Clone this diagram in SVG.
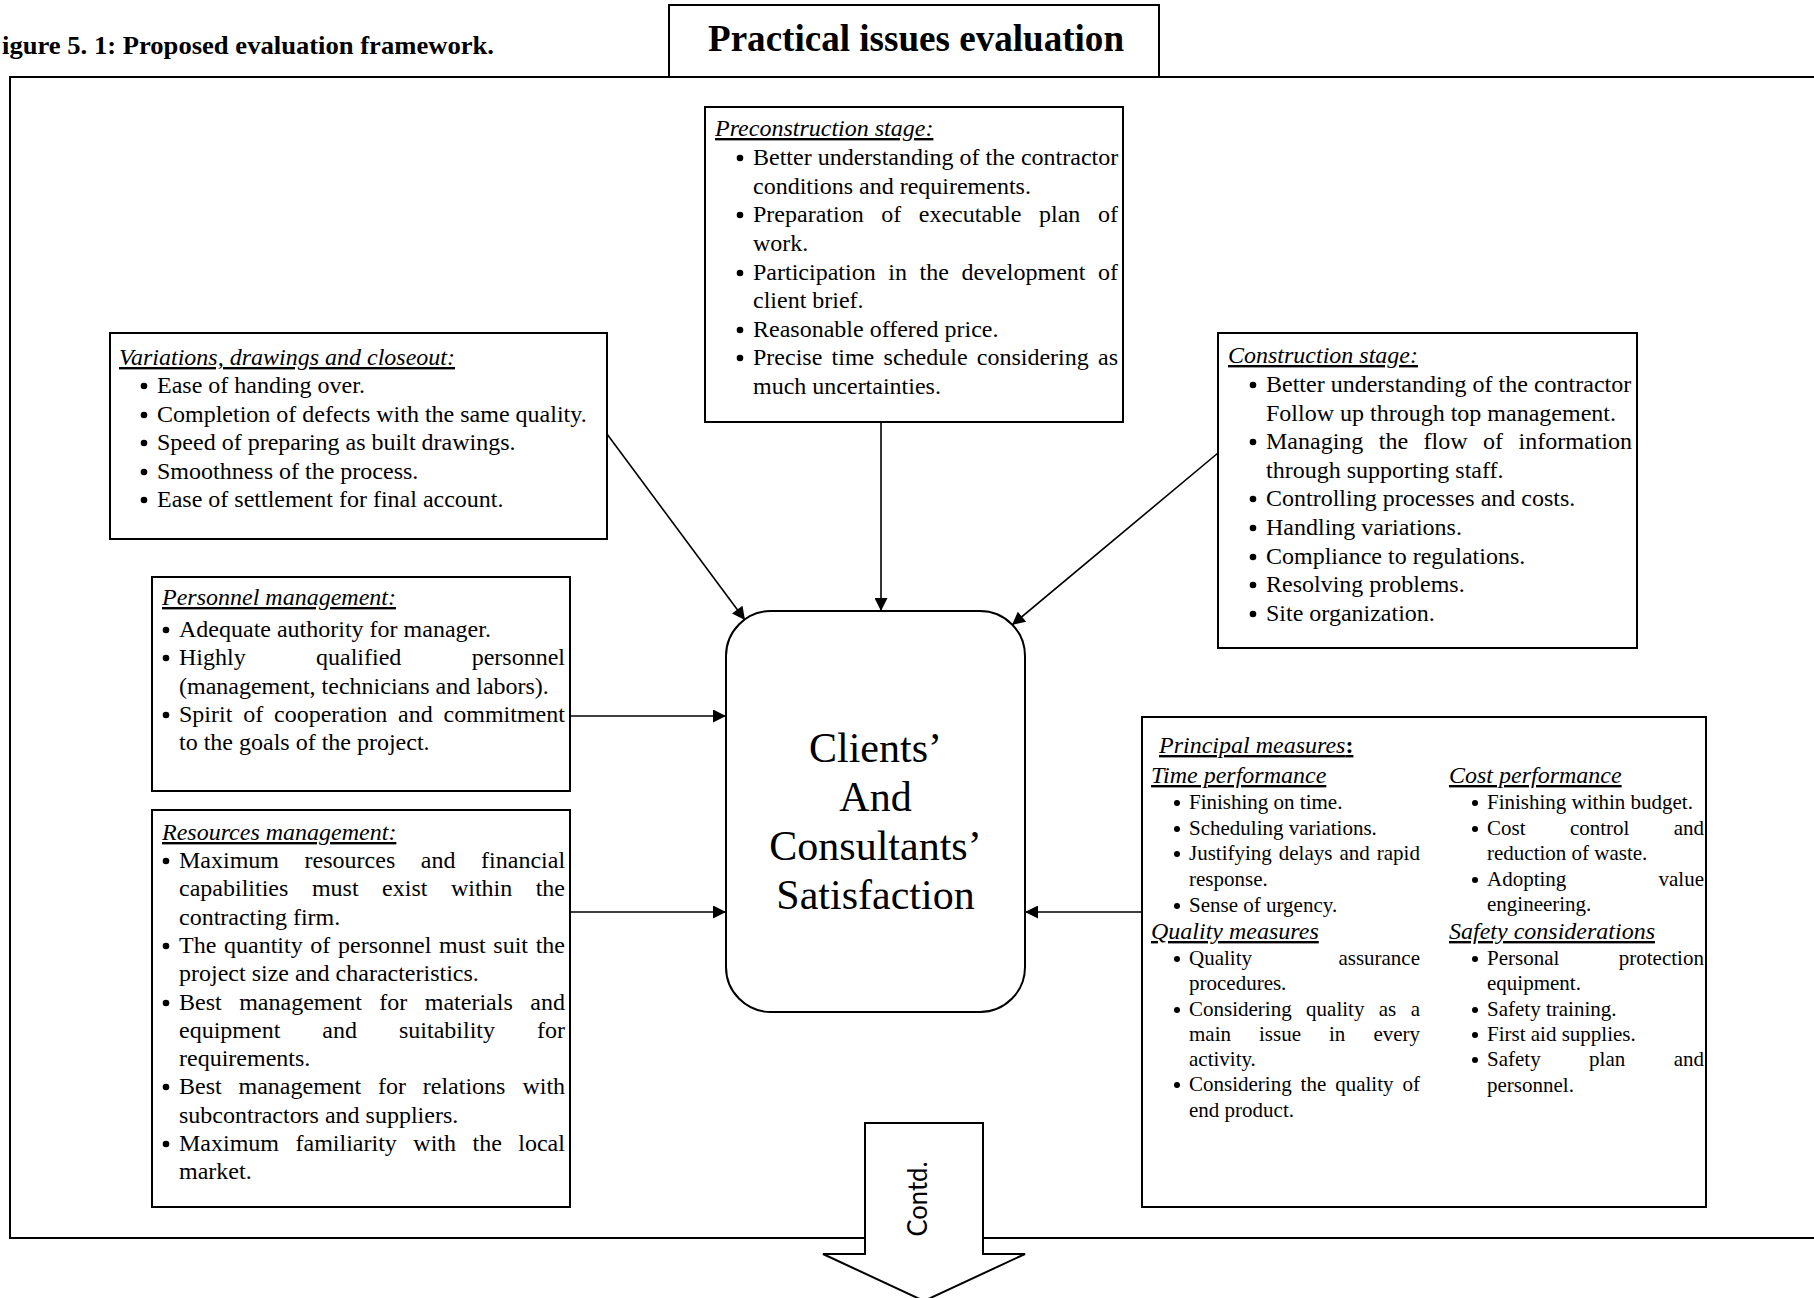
<svg xmlns="http://www.w3.org/2000/svg" width="1814" height="1298" viewBox="0 0 1814 1298">
<style>
.box{fill:#fff;stroke:#000;stroke-width:2}
.t{font-family:"Liberation Serif","Times New Roman",serif;font-size:24px;fill:#000}
.s{font-size:21px}
.h{font-style:italic;text-decoration:underline}
.bu{fill:#000}
.conn{stroke:#000;stroke-width:1.6;fill:none;marker-end:url(#ah)}
.frame{fill:none;stroke:#000;stroke-width:2}
</style>
<defs>
<marker id="ah" viewBox="0 0 10 10" refX="10" refY="5" markerWidth="16" markerHeight="13" markerUnits="userSpaceOnUse" orient="auto"><path d="M0,0 L10,5 L0,10 z" fill="#000"/></marker>
</defs>
<rect x="0" y="0" width="1814" height="1298" fill="#fff"/>
<g id="caption">
<text x="2" y="54" class="t" style="font-weight:bold;font-size:26px" textLength="492" lengthAdjust="spacingAndGlyphs">igure 5. 1: Proposed evaluation framework.</text>
</g>
<path id="frame" class="frame" d="M1830,77 H10 V1238 H1830"/>
<g id="title">
<rect class="box" x="669" y="5" width="490" height="72"/>
<text x="916" y="51" class="t" text-anchor="middle" style="font-weight:bold;font-size:38px" textLength="416" lengthAdjust="spacingAndGlyphs">Practical issues evaluation</text>
</g>
<g id="connectors">
<line class="conn" x1="881" y1="422" x2="881" y2="611"/>
<line class="conn" x1="607" y1="434" x2="745" y2="620"/>
<line class="conn" x1="1218" y1="453" x2="1012" y2="625"/>
<line class="conn" x1="570" y1="716" x2="726" y2="716"/>
<line class="conn" x1="570" y1="912" x2="726" y2="912"/>
<line class="conn" x1="1142" y1="912" x2="1025" y2="912"/>
</g>
<g id="preconstruction">
<rect class="box" x="705" y="107" width="418" height="315"/>
<text x="715" y="136" class="t h">Preconstruction stage:</text>
<circle class="bu" cx="740" cy="158" r="3.3"/>
<circle class="bu" cx="740" cy="215" r="3.3"/>
<circle class="bu" cx="740" cy="273" r="3.3"/>
<circle class="bu" cx="740" cy="330" r="3.3"/>
<circle class="bu" cx="740" cy="358" r="3.3"/>
<text x="753" y="165" class="t">Better understanding of the contractor</text>
<text x="753" y="194" class="t">conditions and requirements.</text>
<text y="222" class="t"><tspan x="753">Preparation </tspan><tspan x="881.2">of </tspan><tspan x="918.8">executable </tspan><tspan x="1039">plan </tspan><tspan x="1097.9">of</tspan></text>
<text x="753" y="251" class="t">work.</text>
<text y="280" class="t"><tspan x="753">Participation </tspan><tspan x="888.3">in </tspan><tspan x="919.6">the </tspan><tspan x="961.5">development </tspan><tspan x="1098.1">of</tspan></text>
<text x="753" y="308" class="t">client brief.</text>
<text x="753" y="337" class="t">Reasonable offered price.</text>
<text y="365" class="t"><tspan x="753">Precise </tspan><tspan x="831.6">time </tspan><tspan x="883.6">schedule </tspan><tspan x="976.8">considering </tspan><tspan x="1098.1">as</tspan></text>
<text x="753" y="394" class="t">much uncertainties.</text>
</g>
<g id="variations">
<rect class="box" x="110" y="333" width="497" height="206"/>
<text x="119" y="365" class="t h">Variations, drawings and closeout:</text>
<circle class="bu" cx="144" cy="386" r="3.3"/>
<circle class="bu" cx="144" cy="415" r="3.3"/>
<circle class="bu" cx="144" cy="443" r="3.3"/>
<circle class="bu" cx="144" cy="472" r="3.3"/>
<circle class="bu" cx="144" cy="500" r="3.3"/>
<text x="157" y="393" class="t">Ease of handing over.</text>
<text x="157" y="422" class="t">Completion of defects with the same quality.</text>
<text x="157" y="450" class="t">Speed of preparing as built drawings.</text>
<text x="157" y="479" class="t">Smoothness of the process.</text>
<text x="157" y="507" class="t">Ease of settlement for final account.</text>
</g>
<g id="construction">
<rect class="box" x="1218" y="333" width="419" height="315"/>
<text x="1228" y="363" class="t h">Construction stage:</text>
<circle class="bu" cx="1253" cy="385" r="3.3"/>
<circle class="bu" cx="1253" cy="442" r="3.3"/>
<circle class="bu" cx="1253" cy="499" r="3.3"/>
<circle class="bu" cx="1253" cy="528" r="3.3"/>
<circle class="bu" cx="1253" cy="557" r="3.3"/>
<circle class="bu" cx="1253" cy="585" r="3.3"/>
<circle class="bu" cx="1253" cy="614" r="3.3"/>
<text x="1266" y="392" class="t">Better understanding of the contractor</text>
<text x="1266" y="421" class="t">Follow up through top management.</text>
<text y="449" class="t"><tspan x="1266">Managing </tspan><tspan x="1378.8">the </tspan><tspan x="1423.6">flow </tspan><tspan x="1483.1">of </tspan><tspan x="1518.6">information</tspan></text>
<text x="1266" y="478" class="t">through supporting staff.</text>
<text x="1266" y="506" class="t">Controlling processes and costs.</text>
<text x="1266" y="535" class="t">Handling variations.</text>
<text x="1266" y="564" class="t">Compliance to regulations.</text>
<text x="1266" y="592" class="t">Resolving problems.</text>
<text x="1266" y="621" class="t">Site organization.</text>
</g>
<g id="personnel">
<rect class="box" x="152" y="577" width="418" height="214"/>
<text x="162" y="605" class="t h">Personnel management:</text>
<circle class="bu" cx="166" cy="630" r="3.3"/>
<circle class="bu" cx="166" cy="658" r="3.3"/>
<circle class="bu" cx="166" cy="715" r="3.3"/>
<text x="179" y="637" class="t">Adequate authority for manager.</text>
<text y="665" class="t"><tspan x="179">Highly </tspan><tspan x="316">qualified </tspan><tspan x="471.7">personnel</tspan></text>
<text x="179" y="694" class="t">(management, technicians and labors).</text>
<text y="722" class="t"><tspan x="179">Spirit </tspan><tspan x="243.2">of </tspan><tspan x="274">cooperation </tspan><tspan x="398.1">and </tspan><tspan x="443.6">commitment</tspan></text>
<text x="179" y="750" class="t">to the goals of the project.</text>
</g>
<g id="resources">
<rect class="box" x="152" y="810" width="418" height="397"/>
<text x="162" y="840" class="t h">Resources management:</text>
<circle class="bu" cx="166" cy="861" r="3.3"/>
<circle class="bu" cx="166" cy="946" r="3.3"/>
<circle class="bu" cx="166" cy="1003" r="3.3"/>
<circle class="bu" cx="166" cy="1087" r="3.3"/>
<circle class="bu" cx="166" cy="1144" r="3.3"/>
<text y="868" class="t"><tspan x="179">Maximum </tspan><tspan x="304.6">resources </tspan><tspan x="420.8">and </tspan><tspan x="481.1">financial</tspan></text>
<text y="896" class="t"><tspan x="179">capabilities </tspan><tspan x="311.9">must </tspan><tspan x="382.1">exist </tspan><tspan x="450.9">within </tspan><tspan x="535.7">the</tspan></text>
<text x="179" y="925" class="t">contracting firm.</text>
<text y="953" class="t"><tspan x="179">The </tspan><tspan x="224">quantity </tspan><tspan x="310.3">of </tspan><tspan x="338">personnel </tspan><tspan x="439">must </tspan><tspan x="493.3">suit </tspan><tspan x="535.7">the</tspan></text>
<text x="179" y="981" class="t">project size and characteristics.</text>
<text y="1010" class="t"><tspan x="179">Best </tspan><tspan x="239.2">management </tspan><tspan x="379.3">for </tspan><tspan x="424.8">materials </tspan><tspan x="530.3">and</tspan></text>
<text y="1038" class="t"><tspan x="179">equipment </tspan><tspan x="322.3">and </tspan><tspan x="399">suitability </tspan><tspan x="537">for</tspan></text>
<text x="179" y="1066" class="t">requirements.</text>
<text y="1094" class="t"><tspan x="179">Best </tspan><tspan x="238.5">management </tspan><tspan x="378">for </tspan><tspan x="422.8">relations </tspan><tspan x="522.4">with</tspan></text>
<text x="179" y="1123" class="t">subcontractors and suppliers.</text>
<text y="1151" class="t"><tspan x="179">Maximum </tspan><tspan x="295.5">familiarity </tspan><tspan x="413.3">with </tspan><tspan x="472.5">the </tspan><tspan x="518.3">local</tspan></text>
<text x="179" y="1179" class="t">market.</text>
</g>
<g id="satisfaction">
<rect class="box" x="726" y="611" width="299" height="401" rx="45" ry="45"/>
<text class="t" text-anchor="middle" style="font-size:42px"><tspan x="875.5" y="762">Clients’</tspan><tspan x="875.5" y="811">And</tspan><tspan x="875.5" y="860">Consultants’</tspan><tspan x="875.5" y="909">Satisfaction</tspan></text>
</g>
<g id="principal">
<rect class="box" x="1142" y="717" width="564" height="490"/>
<text x="1159" y="753" class="t h">Principal measures<tspan style="font-style:normal;font-weight:bold">:</tspan></text>
<text x="1151" y="783" class="t h">Time performance</text>
<text x="1449" y="783" class="t h">Cost performance</text>
<text x="1151" y="939" class="t h">Quality measures</text>
<text x="1449" y="939" class="t h">Safety considerations</text>
<g class="bu">
<circle cx="1177" cy="803" r="3"/>
<circle cx="1177" cy="829" r="3"/>
<circle cx="1177" cy="854" r="3"/>
<circle cx="1177" cy="906" r="3"/>
<circle cx="1177" cy="959" r="3"/>
<circle cx="1177" cy="1010" r="3"/>
<circle cx="1177" cy="1085" r="3"/>
<circle cx="1475" cy="803" r="3"/>
<circle cx="1475" cy="829" r="3"/>
<circle cx="1475" cy="880" r="3"/>
<circle cx="1475" cy="959" r="3"/>
<circle cx="1475" cy="1010" r="3"/>
<circle cx="1475" cy="1035" r="3"/>
<circle cx="1475" cy="1060" r="3"/>
</g>
<text x="1189" y="809" class="t s">Finishing on time.</text>
<text x="1189" y="835" class="t s">Scheduling variations.</text>
<text y="860" class="t s"><tspan x="1189">Justifying </tspan><tspan x="1278.8">delays </tspan><tspan x="1339.5">and </tspan><tspan x="1376.8">rapid</tspan></text>
<text x="1189" y="886" class="t s">response.</text>
<text x="1189" y="912" class="t s">Sense of urgency.</text>
<text y="965" class="t s"><tspan x="1189">Quality </tspan><tspan x="1338.4">assurance</tspan></text>
<text x="1189" y="990" class="t s">procedures.</text>
<text y="1016" class="t s"><tspan x="1189">Considering </tspan><tspan x="1306.1">quality </tspan><tspan x="1378.8">as </tspan><tspan x="1410.7">a</tspan></text>
<text y="1041" class="t s"><tspan x="1189">main </tspan><tspan x="1259">issue </tspan><tspan x="1329">in </tspan><tspan x="1373.4">every</tspan></text>
<text x="1189" y="1066" class="t s">activity.</text>
<text y="1091" class="t s"><tspan x="1189">Considering </tspan><tspan x="1300.6">the </tspan><tspan x="1335.2">quality </tspan><tspan x="1402.4">of</tspan></text>
<text x="1189" y="1117" class="t s">end product.</text>
<text x="1487" y="809" class="t s">Finishing within budget.</text>
<text y="835" class="t s"><tspan x="1487">Cost </tspan><tspan x="1569.9">control </tspan><tspan x="1673.7">and</tspan></text>
<text x="1487" y="860" class="t s">reduction of waste.</text>
<text y="886" class="t s"><tspan x="1487">Adopting </tspan><tspan x="1658.5">value</tspan></text>
<text x="1487" y="911" class="t s">engineering.</text>
<text y="965" class="t s"><tspan x="1487">Personal </tspan><tspan x="1618.8">protection</tspan></text>
<text x="1487" y="990" class="t s">equipment.</text>
<text x="1487" y="1016" class="t s">Safety training.</text>
<text x="1487" y="1041" class="t s">First aid supplies.</text>
<text y="1066" class="t s"><tspan x="1487">Safety </tspan><tspan x="1589.1">plan </tspan><tspan x="1673.7">and</tspan></text>
<text x="1487" y="1092" class="t s">personnel.</text>
</g>
<g id="contd">
<path d="M865,1123 H983 V1254 H1025 L924,1301 L823,1254 H865 Z" fill="#fff" stroke="#000" stroke-width="2"/>
<text transform="translate(927,1199) rotate(-90)" text-anchor="middle" style="font-family:Lato,'Liberation Sans',sans-serif;font-size:26px" textLength="75" lengthAdjust="spacingAndGlyphs">Contd.</text>
</g>
</svg>
